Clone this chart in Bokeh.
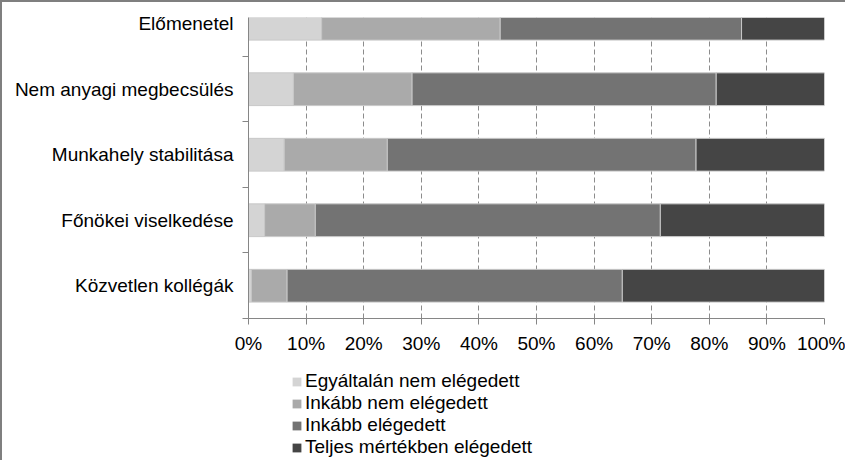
from bokeh.plotting import figure
from bokeh.layouts import column
from bokeh.models import ColumnDataSource, FixedTicker, PrintfTickFormatter, Range1d
from bokeh.embed import file_html
from bokeh.resources import INLINE

# ---- data ----
categories = ["Közvetlen kollégák", "Főnökei viselkedése", "Munkahely stabilitása",
              "Nem anyagi megbecsülés", "Előmenetel"]
series_names = ["Egyáltalán nem elégedett", "Inkább nem elégedett",
                "Inkább elégedett", "Teljes mértékben elégedett"]
egyaltalan_nem = [0.5, 2.8, 6.2, 7.8, 12.7]
inkabb_nem = [6.2, 8.8, 17.9, 20.6, 31.0]
inkabb_eleg = [58.2, 59.9, 53.6, 52.8, 41.9]
teljes = [35.1, 28.5, 22.3, 18.8, 14.4]
x_ticks = [0, 10, 20, 30, 40, 50, 60, 70, 80, 90, 100]

colors = ["#d4d4d4", "#aaaaaa", "#737373", "#454545"]
FONT = "Liberation Sans"
FS = "19px"

ypos = list(range(len(categories)))
keys = ["s0", "s1", "s2", "s3"]
src = ColumnDataSource(dict(y=ypos, s0=egyaltalan_nem, s1=inkabb_nem,
                            s2=inkabb_eleg, s3=teljes))

W = 843
p = figure(width=W, height=355, output_backend="svg", toolbar_location=None,
           x_range=Range1d(0, 100), y_range=Range1d(-0.5, 4.095),
           min_border_left=246, min_border_right=21, min_border_top=15,
           min_border_bottom=39)
p.outline_line_color = None
p.background_fill_color = "white"
p.border_fill_color = "white"

p.hbar_stack(keys, y="y", height=0.5, color=colors, source=src,
             line_color="#c8c8c8", line_width=1)

# x axis
p.xaxis.ticker = FixedTicker(ticks=x_ticks)
p.xaxis.formatter = PrintfTickFormatter(format="%d%%")
p.xaxis.axis_line_color = "#868686"
p.xaxis.major_tick_line_color = "#868686"
p.xaxis.major_tick_out = 6
p.xaxis.major_tick_in = 0
p.xaxis.minor_tick_line_color = None
p.xaxis.minor_tick_out = 0
p.xaxis.minor_tick_in = 0
p.xaxis.major_label_standoff = 8
p.xaxis.major_label_text_font = FONT
p.xaxis.major_label_text_font_size = FS
p.xaxis.major_label_text_color = "#000000"

# y axis
p.yaxis.ticker = FixedTicker(ticks=ypos, minor_ticks=[-0.5, 0.5, 1.5, 2.5, 3.5])
p.yaxis.major_label_overrides = {i: c for i, c in enumerate(categories)}
p.yaxis.axis_line_color = "#868686"
p.yaxis.major_tick_line_color = None
p.yaxis.major_tick_out = 0
p.yaxis.major_tick_in = 0
p.yaxis.minor_tick_line_color = "#868686"
p.yaxis.minor_tick_out = 6
p.yaxis.minor_tick_in = 0
p.yaxis.major_label_standoff = 9
p.yaxis.major_label_text_font = FONT
p.yaxis.major_label_text_font_size = FS
p.yaxis.major_label_text_color = "#000000"

# grid
p.ygrid.grid_line_color = None
p.xgrid.ticker = FixedTicker(ticks=x_ticks[1:])
p.xgrid.grid_line_color = "#8c8c8c"
p.xgrid.grid_line_dash = "5 3"
p.xgrid.grid_line_width = 1

# ---- legend strip below the chart ----
p2 = figure(width=W, height=103, output_backend="svg", toolbar_location=None,
            x_range=Range1d(0, 1), y_range=Range1d(0, 1),
            x_axis_location=None, y_axis_location=None,
            min_border_left=0, min_border_right=0, min_border_top=0, min_border_bottom=0)
p2.outline_line_color = None
p2.grid.visible = False
p2.background_fill_color = "white"
p2.border_fill_color = "white"
# legend swatches: one off-screen bar per series (outside the visible y range)
for name, col in zip(series_names, colors):
    p2.hbar(y=[-5], right=[0.5], height=0.5, color=col, line_color=None,
            legend_label=name)

lg = p2.legend[0]
lg.location = (43, 2)
lg.padding = 0
lg.margin = 0
lg.spacing = 0
lg.border_line_color = None
lg.background_fill_alpha = 0
lg.glyph_width = 11
lg.glyph_height = 11
lg.label_standoff = 3
lg.label_height = 20
lg.label_text_font = FONT
lg.label_text_font_size = FS
lg.label_text_color = "#000000"

layout = column(p, p2, spacing=0,
                styles={"border-left": "2px solid #7f7f7f",
                        "border-top": "2px solid #7f7f7f",
                        "background-color": "white"})

open("out.html", "w").write(file_html(layout, INLINE))
